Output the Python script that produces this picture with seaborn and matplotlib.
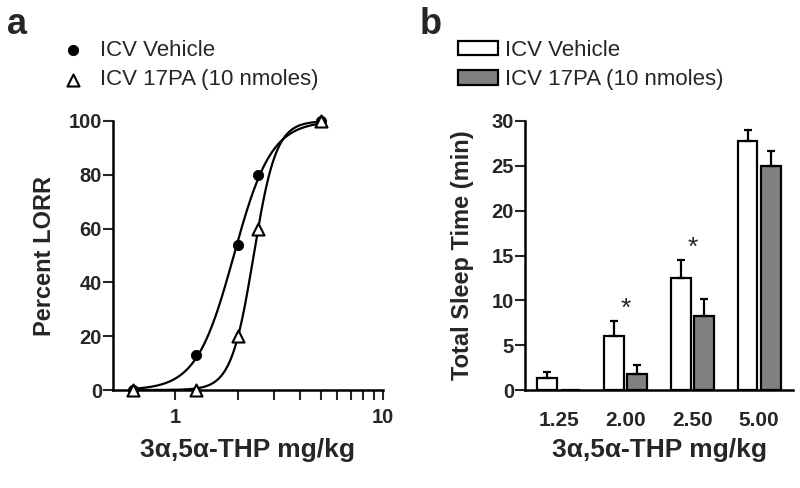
import numpy as np
import pandas as pd
import matplotlib
matplotlib.use("Agg")
import matplotlib.pyplot as plt
from matplotlib.ticker import NullFormatter
import seaborn as sns

# panel a: percent LORR vs dose
dose_a = [0.625, 1.25, 2.0, 2.5, 5.0]
lorr_vehicle = [0, 13, 54, 80, 100]
lorr_17pa = [0, 0, 20, 60, 100]

# panel b: total sleep time (mean, upper SEM)
dose_labels = ["1.25", "2.00", "2.50", "5.00"]
sleep_vehicle = [1.3, 6.05, 12.5, 27.8]
sleep_vehicle_sem = [0.75, 1.65, 1.95, 1.2]
sleep_17pa = [0.0, 1.75, 8.3, 25.0]
sleep_17pa_sem = [0.0, 1.05, 1.85, 1.7]
signif = ["", "*", "*", ""]

groups = ["ICV Vehicle", "ICV 17PA (10 nmoles)"]
bar_colors = ["white", "#808080"]


def hill(x, ec50, n):
    return 100.0 / (1.0 + (ec50 / x) ** n)


def fit_hill(x, y):
    # crude least-squares grid search for EC50 and Hill slope
    x = np.asarray(x, float)[:, None, None]
    y = np.asarray(y, float)[:, None, None]
    ec = np.linspace(1.0, 4.0, 301)[None, :, None]
    nn = np.linspace(1.0, 12.0, 221)[None, None, :]
    sse = ((hill(x, ec, nn) - y) ** 2).sum(axis=0)
    i, j = np.unravel_index(np.argmin(sse), sse.shape)
    return ec[0, i, 0], nn[0, 0, j]


sns.set_theme(style="ticks")
plt.rcParams["font.family"] = ["Liberation Sans", "DejaVu Sans"]
plt.rcParams["font.weight"] = "bold"
plt.rcParams["axes.labelweight"] = "bold"

fig = plt.figure(figsize=(8, 4.88), dpi=100)
ax_a = fig.add_axes([113 / 800, 98 / 488, 270 / 800, 269 / 488])
ax_b = fig.add_axes([525 / 800, 98 / 488, 268 / 800, 269 / 488])

# ---- panel a ----
xs = np.logspace(np.log10(dose_a[0]), np.log10(dose_a[-1]), 300)
for y in [lorr_vehicle, lorr_17pa]:
    ec50, n = fit_hill(dose_a, y)
    sns.lineplot(x=xs, y=hill(xs, ec50, n), color="black", linewidth=1.6, ax=ax_a)

sns.scatterplot(x=dose_a, y=lorr_vehicle, marker="o", s=55, color="black",
                edgecolor="black", clip_on=False, zorder=3, ax=ax_a)
h_veh = ax_a.collections[-1]
sns.scatterplot(x=dose_a, y=lorr_17pa, marker="^", s=75, color="white",
                edgecolor="black", linewidth=1.5, clip_on=False, zorder=4, ax=ax_a)
h_pa = ax_a.collections[-1]

ax_a.set_xscale("log")
ax_a.set_xlim(0.5, 10)
ax_a.set_ylim(0, 100)
ax_a.set_xticks([1, 10])
ax_a.set_xticklabels(["1", "10"])
ax_a.set_xticks([2, 3, 4, 5, 6, 7, 8, 9], minor=True)
ax_a.xaxis.set_minor_formatter(NullFormatter())
ax_a.set_yticks([0, 20, 40, 60, 80, 100])
ax_a.set_xlabel("3α,5α-THP mg/kg", fontsize=19)
ax_a.set_ylabel("Percent LORR", fontsize=17)
ax_a.xaxis.set_label_coords(0.5, -0.18)
ax_a.yaxis.set_label_coords(-0.21, 0.5)
ax_a.tick_params(axis="both", which="both", width=1.5, length=7, labelsize=14.5)
ax_a.tick_params(axis="y", pad=1)
ax_a.tick_params(axis="x", pad=6)

# ---- panel b ----
df = pd.DataFrame({
    "dose": dose_labels * 2,
    "sleep": sleep_vehicle + sleep_17pa,
    "group": [groups[0]] * len(dose_labels) + [groups[1]] * len(dose_labels),
})
sns.barplot(data=df, x="dose", y="sleep", hue="group", order=dose_labels,
            hue_order=groups, palette=bar_colors, edgecolor="black",
            linewidth=1.6, width=0.7, gap=0.15, errorbar=None, legend=False,
            ax=ax_b)

for cont, sems in zip(ax_b.containers, [sleep_vehicle_sem, sleep_17pa_sem]):
    for bar, sem in zip(cont, sems):
        if sem > 0:
            ax_b.errorbar(bar.get_x() + bar.get_width() / 2, bar.get_height(),
                          yerr=[[0], [sem]], fmt="none", ecolor="black",
                          elinewidth=1.6, capsize=3, capthick=1.6)

for i, mark in enumerate(signif):
    if mark:
        top = sleep_vehicle[i] + sleep_vehicle_sem[i]
        ax_b.annotate(mark, xy=(i, top), xytext=(0, 9), textcoords="offset points",
                      ha="center", va="center", fontsize=19, fontweight="normal")

ax_b.set_ylim(0, 30)
ax_b.set_yticks([0, 5, 10, 15, 20, 25, 30])
ax_b.set_xlabel("3α,5α-THP mg/kg", fontsize=19)
ax_b.set_ylabel("Total Sleep Time (min)", fontsize=17)
ax_b.xaxis.set_label_coords(0.5, -0.18)
ax_b.yaxis.set_label_coords(-0.19, 0.5)
ax_b.tick_params(axis="y", width=1.5, length=7, labelsize=14.5, pad=1)
ax_b.tick_params(axis="x", length=0, labelsize=15, pad=15)

for ax in [ax_a, ax_b]:
    sns.despine(ax=ax)
    for side in ["left", "bottom"]:
        ax.spines[side].set_linewidth(1.8)
        ax.spines[side].set_color("black")

# legends
fig.legend(handles=[h_veh, h_pa], labels=groups, loc="upper left",
           bbox_to_anchor=(62 / 800, 1 - 40 / 488), frameon=False, borderpad=0,
           borderaxespad=0, handlelength=1.0, handletextpad=0.72,
           labelspacing=0.38, scatterpoints=1,
           prop={"size": 16, "weight": "normal"})
bar_handles = [ax_b.containers[0][0], ax_b.containers[1][0]]
fig.legend(handles=bar_handles, labels=groups, loc="upper left",
           bbox_to_anchor=(458 / 800, 1 - 40 / 488), frameon=False, borderpad=0,
           borderaxespad=0, handlelength=1.8, handleheight=0.63,
           handletextpad=0.32, labelspacing=0.38,
           prop={"size": 16, "weight": "normal"})

# panel letters
fig.text(7 / 800, 1 - 34 / 488, "a", fontsize=26, fontweight="bold", va="baseline")
fig.text(420 / 800, 1 - 34 / 488, "b", fontsize=26, fontweight="bold", va="baseline")

fig.savefig("out.png", dpi=100)
